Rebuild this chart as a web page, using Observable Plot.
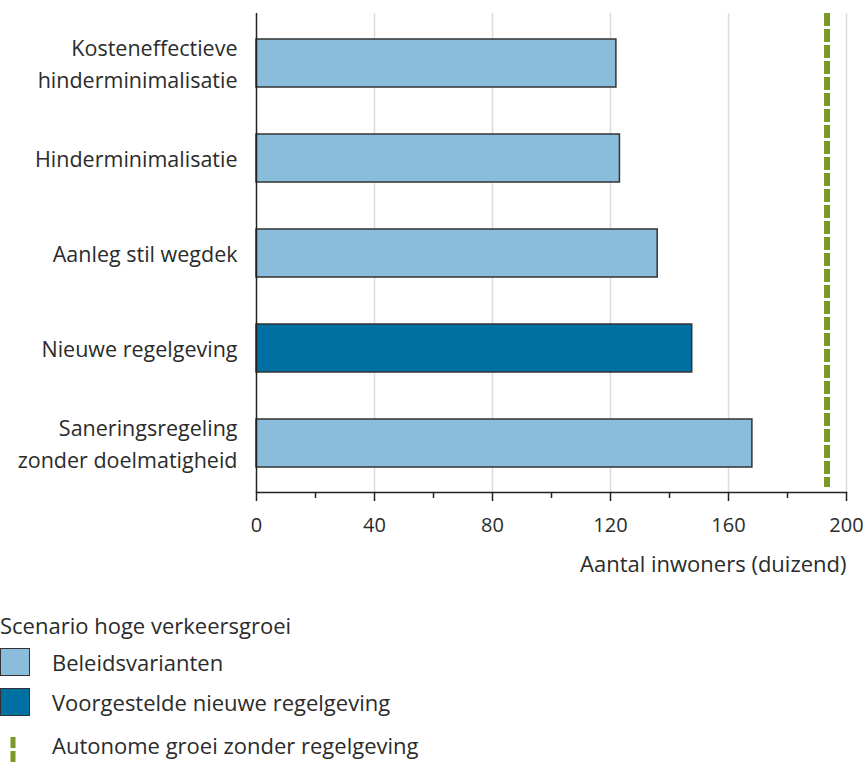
<!DOCTYPE html>
<html>
<head>
<meta charset="utf-8">
<script src="https://cdn.jsdelivr.net/npm/d3@7"></script>
<script src="https://cdn.jsdelivr.net/npm/@observablehq/plot@0.6"></script>
<style>
  html, body { margin: 0; padding: 0; background: #fff; }
  #wrap { position: relative; width: 865px; height: 762px; overflow: hidden; font-family: "Open Sans", Lato, sans-serif; color: #2b2b2b; }
  #chart { position: absolute; left: 0; top: 0; }
  .leg { position: absolute; font-size: 22px; line-height: 1; white-space: nowrap; }
  .sw { position: absolute; width: 30px; height: 28px; border: 1.5px solid #333; box-sizing: border-box; }
</style>
</head>
<body>
<div id="wrap">
  <div id="chart"></div>
  <div class="leg" style="left:0px; top:614px;">Scenario hoge verkeersgroei</div>
  <div class="sw" style="left:0px; top:648px; background:#89bddb;"></div>
  <div class="leg" style="left:52px; top:651px;">Beleidsvarianten</div>
  <div class="sw" style="left:0px; top:688px; background:#006fa2;"></div>
  <div class="leg" style="left:52px; top:691px;">Voorgestelde nieuwe regelgeving</div>
  <svg style="position:absolute; left:0; top:734px;" width="30" height="28">
    <line x1="13" x2="13" y1="3" y2="28" stroke="#7a9a27" stroke-width="5" stroke-dasharray="11,3"></line>
  </svg>
  <div class="leg" style="left:52px; top:734px;">Autonome groei zonder regelgeving</div>
</div>
<script>
const categories = [
  "Kosteneffectieve\nhinderminimalisatie",
  "Hinderminimalisatie",
  "Aanleg stil wegdek",
  "Nieuwe regelgeving",
  "Saneringsregeling\nzonder doelmatigheid"
];
const values = [122, 123.2, 136, 147.7, 168.1];
const types = ["Beleidsvarianten", "Beleidsvarianten", "Beleidsvarianten", "Voorgestelde nieuwe regelgeving", "Beleidsvarianten"];
const autonomousGrowth = 193.4;
const majorTicks = [0, 40, 80, 120, 160, 200];
const minorTicks = [20, 60, 100, 140, 180];
const gridTicks = [40, 80, 120, 160, 200];
const xLabel = "Aantal inwoners (duizend)";

const colorMap = {"Beleidsvarianten": "#89bddb", "Voorgestelde nieuwe regelgeving": "#006fa2"};
const data = categories.map((c, i) => ({cat: c, value: values[i], type: types[i]}));

const chart = Plot.plot({
  width: 865,
  height: 590,
  marginLeft: 256,
  marginRight: 19,
  marginTop: 13,
  marginBottom: 98,
  style: {fontFamily: "'Open Sans', Lato, sans-serif", color: "#2b2b2b", background: "transparent"},
  x: {domain: [0, 200]},
  y: {domain: categories, paddingInner: 0.5, paddingOuter: 0.263, axis: null},
  marks: [
    Plot.gridX(gridTicks, {stroke: "#dcdcdc", strokeOpacity: 1, strokeWidth: 1.5}),
    Plot.barX(data, {y: "cat", x: "value", fill: d => colorMap[d.type], stroke: "#333", strokeWidth: 1.5}),
    Plot.ruleX([autonomousGrowth], {stroke: "#7a9a27", strokeWidth: 6, strokeDasharray: "13,3", insetBottom: 5}),
    Plot.ruleX([0], {stroke: "#222", strokeWidth: 1.5}),
    Plot.frame({anchor: "bottom", stroke: "#222", strokeWidth: 1.5}),
    Plot.axisX(minorTicks, {tickSize: 6, tickFormat: () => "", label: null, stroke: "#222", strokeWidth: 1.5}),
    Plot.axisX(majorTicks, {tickSize: 9, tickPadding: 16, fontSize: 20, stroke: "#222", strokeWidth: 1.5, fill: "#2b2b2b", label: null}),
    Plot.text([xLabel], {frameAnchor: "bottom-right", dy: 79, textAnchor: "end", fontSize: 22, fill: "#2b2b2b"}),
    Plot.text(data, {x: 0, y: "cat", text: "cat", textAnchor: "end", dx: -19, dy: -2, fontSize: 21.5, lineHeight: 1.53, fill: "#2b2b2b"})
  ]
});
document.getElementById("chart").appendChild(chart);
</script>
</body>
</html>
